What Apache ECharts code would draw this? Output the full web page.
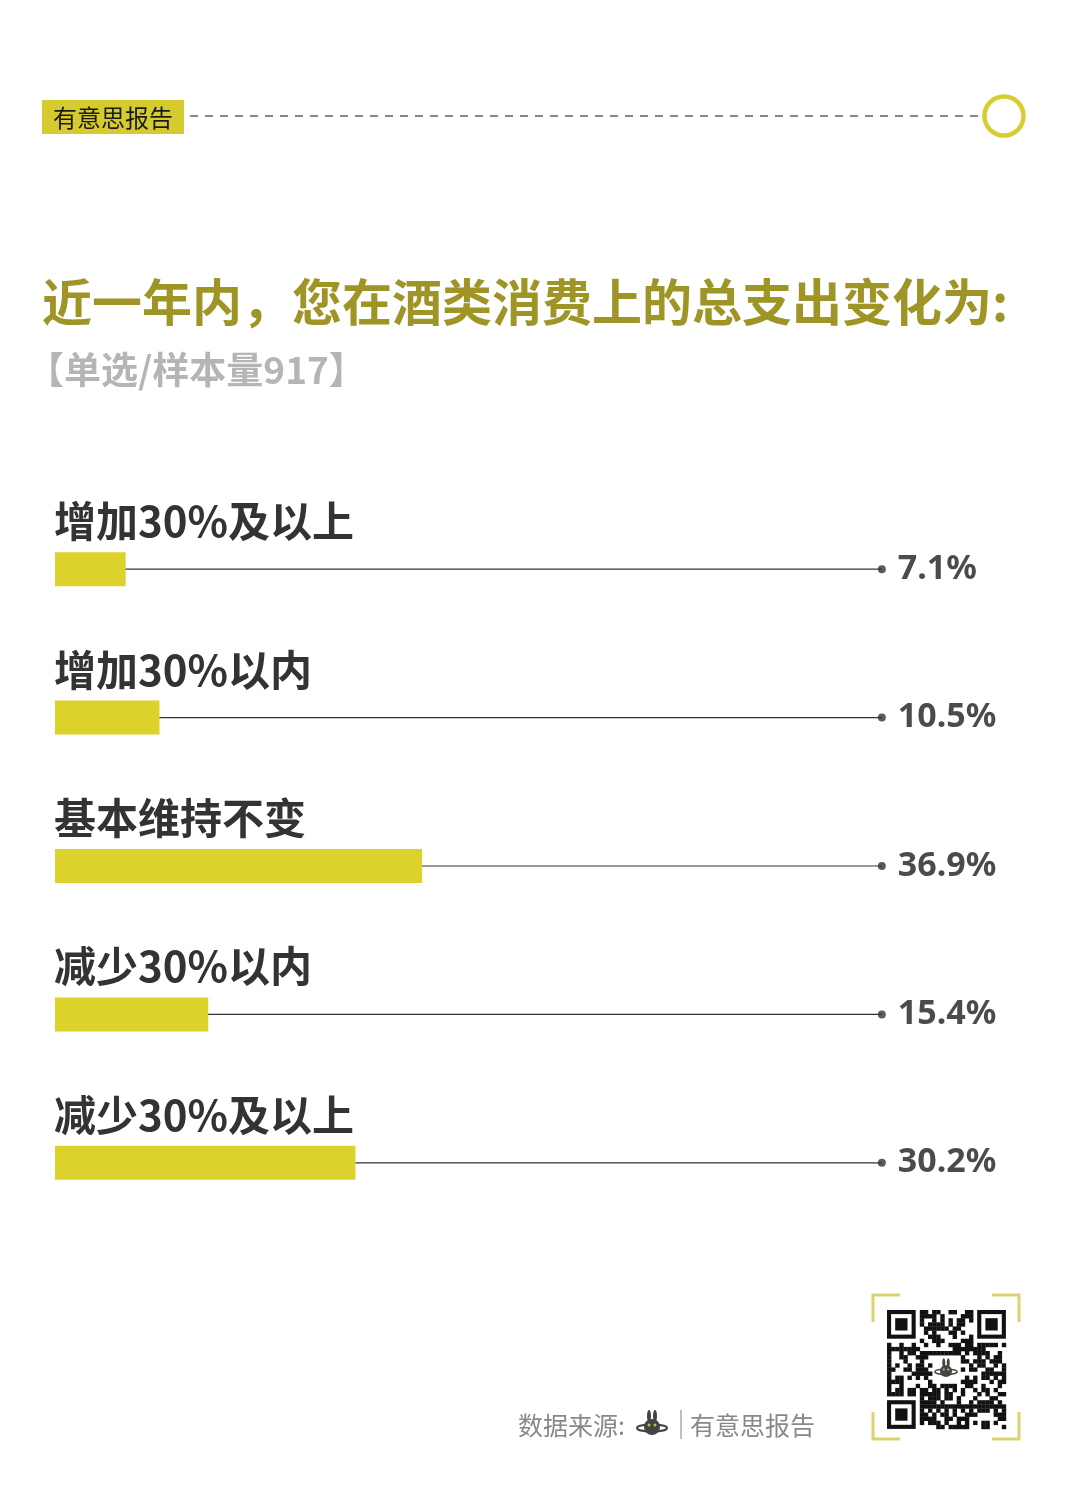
<!DOCTYPE html>
<html>
<head>
<meta charset="utf-8">
<script src="https://cdn.jsdelivr.net/npm/echarts@6/dist/echarts.min.js"></script>
<style>
html,body{margin:0;padding:0;background:#fff;}
#chart{width:1080px;height:1501px;}
</style>
</head>
<body>
<div id="chart"></div>
<script>
// ---- data ----
var categories = ['增加30%及以上', '增加30%以内', '基本维持不变', '减少30%以内', '减少30%及以上'];
var values = [7.1, 10.5, 36.9, 15.4, 30.2];
var titleText = '近一年内，您在酒类消费上的总支出变化为:';
var subtitleText = '【单选/样本量917】';
var tagText = '有意思报告';
var sourceLabel = '数据来源:';
var sourceName = '有意思报告';

// ---- style constants ----
var LINE_END = 83.1;
var YELLOW = '#ddd12b';
var CJK = '"Noto Sans CJK SC", "Noto Sans", sans-serif';

var chart = echarts.init(document.getElementById('chart'), null, {renderer: 'canvas'});

// QR-like decoration
function qrChildren(x0, y0, n, s) {
  var ch = [];
  ch.push({type: 'rect', shape: {x: x0, y: y0, width: n * s, height: n * s}, style: {fill: '#fff'}});
  function finder(cx, cy) {
    ch.push({type: 'rect', shape: {x: x0 + cx * s, y: y0 + cy * s, width: 7 * s, height: 7 * s}, style: {fill: '#111'}});
    ch.push({type: 'rect', shape: {x: x0 + (cx + 1) * s, y: y0 + (cy + 1) * s, width: 5 * s, height: 5 * s}, style: {fill: '#fff'}});
    ch.push({type: 'rect', shape: {x: x0 + (cx + 2) * s, y: y0 + (cy + 2) * s, width: 3 * s, height: 3 * s}, style: {fill: '#111'}});
  }
  for (var i = 0; i < n; i++) {
    for (var j = 0; j < n; j++) {
      var inF = (i < 8 && j < 8) || (i > n - 9 && j < 8) || (i < 8 && j > n - 9);
      var inC = i >= 11 && i <= 17 && j >= 11 && j <= 17;
      if (inF || inC) continue;
      var h = (i * 31 + j * 17 + i * j * 7 + (i ^ j) * 5 + ((i * j) % 3)) % 11;
      if (h < 6) {
        ch.push({type: 'rect', shape: {x: x0 + i * s, y: y0 + j * s, width: s + 0.3, height: s + 0.3}, style: {fill: '#111'}});
      }
    }
  }
  finder(0, 0); finder(n - 7, 0); finder(0, n - 7);
  return ch;
}

function bunny(cx, cy, k) {
  return [
    {type: 'ellipse', shape: {cx: cx - 3 * k, cy: cy - 11 * k, rx: 2 * k, ry: 6 * k}, style: {fill: '#444'}},
    {type: 'ellipse', shape: {cx: cx + 3 * k, cy: cy - 11 * k, rx: 2 * k, ry: 6 * k}, style: {fill: '#444'}},
    {type: 'circle', shape: {cx: cx, cy: cy, r: 8 * k}, style: {fill: '#444'}},
    {type: 'ellipse', shape: {cx: cx, cy: cy + 1 * k, rx: 15 * k, ry: 3.5 * k}, style: {fill: 'none', stroke: '#444', lineWidth: 2 * k}},
    {type: 'circle', shape: {cx: cx - 3 * k, cy: cy - 2 * k, r: 1.5 * k}, style: {fill: '#b8c43a'}},
    {type: 'circle', shape: {cx: cx + 3 * k, cy: cy - 2 * k, r: 1.5 * k}, style: {fill: '#b8c43a'}}
  ];
}

var option = {
  backgroundColor: '#fff',
  animation: false,
  grid: {left: 55, right: 30, top: 495, bottom: 264, containLabel: false},
  xAxis: {type: 'value', min: 0, max: 100, show: false},
  yAxis: [
    {type: 'category', data: categories, inverse: true, show: false},
    {type: 'category', data: categories, inverse: true, show: false}
  ],
  series: [
    {
      type: 'bar',
      silent: true,
      yAxisIndex: 1,
      data: categories.map(function () { return LINE_END; }),
      barWidth: 1.2,
      itemStyle: {color: '#333'},
      z: 1
    },
    {
      type: 'bar',
      silent: true,
      yAxisIndex: 0,
      data: values,
      barWidth: 34,
      itemStyle: {color: YELLOW},
      z: 2,
      label: {
        show: true,
        position: [-1, -31],
        align: 'left',
        verticalAlign: 'middle',
        formatter: function (p) { return categories[p.dataIndex]; },
        fontFamily: CJK,
        fontWeight: 'bold',
        fontSize: 42,
        color: '#333'
      }
    },
    {
      type: 'scatter',
      silent: true,
      yAxisIndex: 0,
      symbol: 'circle',
      symbolSize: 8,
      itemStyle: {color: '#333'},
      z: 3,
      data: categories.map(function (c) { return [LINE_END, c]; }),
      label: {
        show: true,
        position: 'right',
        distance: 12,
        formatter: function (p) { return values[p.dataIndex].toFixed(1) + '%'; },
        fontFamily: '"Noto Sans", sans-serif',
        fontWeight: 'bold',
        fontSize: 34,
        color: '#1e1e1e'
      }
    }
  ],
  graphic: [
    // header tag
    {type: 'rect', shape: {x: 42, y: 100, width: 142, height: 34}, style: {fill: '#d5ca2e'}},
    {type: 'text', x: 113, y: 118, style: {text: tagText, fontFamily: CJK, fontSize: 24, fill: '#1a1a1a', align: 'center', verticalAlign: 'middle'}},
    {type: 'line', shape: {x1: 190, y1: 116, x2: 983, y2: 116}, style: {stroke: '#888', lineWidth: 1.8, lineDash: [8, 7]}},
    {type: 'circle', shape: {cx: 1004, cy: 116, r: 19.5}, style: {fill: '#fff', stroke: '#d8cd30', lineWidth: 4.5}},
    // title
    {type: 'text', x: 42, y: 302, style: {text: titleText, fontFamily: CJK, fontWeight: 'bold', fontSize: 50, fill: '#9e9526', verticalAlign: 'middle'}},
    {type: 'text', x: 27, y: 370, style: {text: subtitleText, fontFamily: CJK, fontWeight: 'bold', fontSize: 37, fill: '#b5b5b5', verticalAlign: 'middle'}},
    // footer
    {type: 'text', x: 518, y: 1425, style: {text: sourceLabel, fontFamily: CJK, fontSize: 25, fill: '#888', verticalAlign: 'middle'}},
    {type: 'group', children: bunny(652, 1427, 1)},
    {type: 'line', shape: {x1: 681, y1: 1410, x2: 681, y2: 1439}, style: {stroke: '#aaa', lineWidth: 1.5}},
    {type: 'text', x: 690, y: 1425, style: {text: sourceName, fontFamily: CJK, fontSize: 25, fill: '#888', verticalAlign: 'middle'}},
    // QR decoration
    {type: 'group', children: qrChildren(887, 1310, 29, 4.1)},
    {type: 'group', children: bunny(946, 1371, 0.75)},
    {type: 'polyline', shape: {points: [[873, 1322], [873, 1295], [900, 1295]]}, style: {stroke: '#dcd36e', lineWidth: 3, fill: 'none'}},
    {type: 'polyline', shape: {points: [[992, 1295], [1019, 1295], [1019, 1322]]}, style: {stroke: '#dcd36e', lineWidth: 3, fill: 'none'}},
    {type: 'polyline', shape: {points: [[873, 1412], [873, 1439], [900, 1439]]}, style: {stroke: '#dcd36e', lineWidth: 3, fill: 'none'}},
    {type: 'polyline', shape: {points: [[992, 1439], [1019, 1439], [1019, 1412]]}, style: {stroke: '#dcd36e', lineWidth: 3, fill: 'none'}}
  ]
};
chart.setOption(option);
</script>
</body>
</html>
